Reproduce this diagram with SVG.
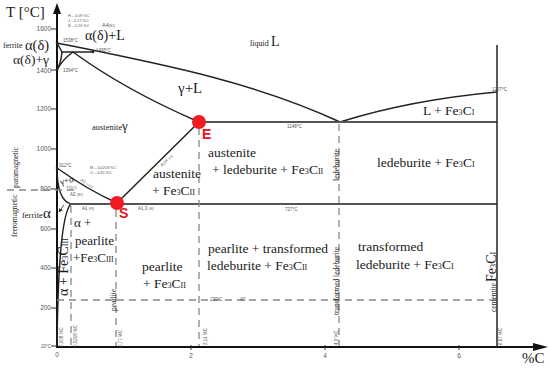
<svg xmlns="http://www.w3.org/2000/svg" width="550" height="371" viewBox="0 0 550 371">
<style>
.s{font-family:"Liberation Serif","Times New Roman",serif;fill:#1a1a1a}
.t{font-family:"Liberation Sans",Arial,sans-serif;fill:#555}
.r{font-family:"Liberation Sans",Arial,sans-serif;font-weight:bold;fill:#e3141b;font-size:14px}
.sub{font-size:60%}
.ln{fill:none;stroke:#222;stroke-width:1.5}
.gl{fill:none;stroke:#555;stroke-width:2}
.ds{fill:none;stroke:#888;stroke-width:1.3;stroke-dasharray:7,5}
.ax{stroke:#111;stroke-width:2;fill:none}
.tk{stroke:#333;stroke-width:1}
</style>
<defs>
<marker id="ah" viewBox="0 0 10 10" refX="9" refY="5" markerWidth="5" markerHeight="5" orient="auto"><path d="M0,0L10,5L0,10z" fill="#222"/></marker>
</defs>
<rect width="550" height="371" fill="#fff"/>

<g id="axes">
<line class="ax" x1="57" y1="348" x2="57" y2="12"/>
<path d="M53,14L57,3L61,14z" fill="#111"/>
<line class="ax" x1="56" y1="347" x2="534" y2="347"/>
<path d="M533,343L548,347L533,351z" fill="#111"/>
<g class="tk">
<line x1="51" y1="29" x2="57" y2="29"/><line x1="51" y1="70" x2="57" y2="70"/><line x1="51" y1="109" x2="57" y2="109"/>
<line x1="51" y1="149" x2="57" y2="149"/><line x1="51" y1="189" x2="57" y2="189"/><line x1="51" y1="229" x2="57" y2="229"/>
<line x1="51" y1="268" x2="57" y2="268"/><line x1="51" y1="308" x2="57" y2="308"/><line x1="51" y1="346" x2="57" y2="346"/>
<line x1="191" y1="345" x2="191" y2="350"/><line x1="325" y1="345" x2="325" y2="350"/><line x1="459" y1="345" x2="459" y2="350"/>
</g>
<g class="t" font-size="6.5" text-anchor="end">
<text x="51" y="31">1600</text><text x="51" y="73">1400</text><text x="51" y="111">1200</text>
<text x="51" y="151">1000</text><text x="51" y="191">800</text><text x="51" y="231">600</text>
<text x="51" y="270">400</text><text x="51" y="310">200</text>
<text x="51" y="348" font-size="4.5">20°C</text>
</g>
<g class="t" font-size="6.5" text-anchor="middle">
<text x="57" y="357">0</text><text x="191" y="358">2</text><text x="325" y="358">4</text><text x="459" y="358">6</text>
</g>
<text class="s" x="6" y="17" font-size="15">T [°C]</text>
<text class="s" x="522" y="363" font-size="15">%C</text>
</g>

<g id="connectors">
<path class="ln" d="M57,43 C150,62 250,80 340,122"/>
<path class="ln" d="M340,122 Q410,100 497,92"/>
<path class="ln" d="M57,43 L62,52"/>
<path class="ln" d="M62,52 Q61,63 57,70"/>
<path class="ln" d="M73,52 Q62,60 57,70"/>
<path class="ln" d="M62,52 L93,52"/>
<path class="ln" d="M73,52 Q125,90 199,122"/>
<path class="ln" d="M57,168 Q88,190 117,203"/>
<path class="ln" d="M57,168 Q57,200 71,204"/>
<path class="ln" d="M71,204 C62,212 58,260 57,345"/>
<path class="ln" d="M117,203 L199,122"/>
<path class="gl" d="M69,204 L497,204"/>
<path class="gl" d="M199,122 L497,122"/>
<path class="ln" d="M497,45 L497,347" stroke="#444"/>
<path class="ds" d="M7,190 L78,190"/>
<path class="ds" d="M57,300 L497,300"/>
<path class="ds" d="M71,206 L71,346"/>
<path class="ds" d="M116,210 L116,346"/>
<path class="ds" d="M199,128 L199,346"/>
<path class="ds" d="M339,124 L339,346"/>
<path d="M64,205 L59,212" stroke="#222" stroke-width="0.8" marker-end="url(#ah)"/>
<g fill="#222"><circle cx="57" cy="43" r="1.3"/><circle cx="93" cy="52" r="1.3"/><circle cx="57" cy="70" r="1.3"/><circle cx="57" cy="168" r="1.3"/></g>
</g>

<g id="point-E"><circle cx="199" cy="122" r="7" fill="#f01c22"/><text class="r" x="202" y="139">E</text></g>
<g id="point-S"><circle cx="117" cy="203" r="7" fill="#f01c22"/><text class="r" x="119" y="218">S</text></g>

<g id="small-annotations" class="t" font-size="4.5">
<text x="68" y="17" font-size="3.8">H – 0,09 %C</text>
<text x="68" y="22" font-size="3.8">J – 0,17 %C</text>
<text x="68" y="27" font-size="3.8">B – 0,53 %C</text>
<text x="102" y="27" font-size="5.5">A4<tspan class="sub">(NJ)</tspan></text>
<text x="63" y="42">1538°C</text>
<text x="96" y="52">1495°C</text>
<text x="63" y="72">1394°C</text>
<text x="287" y="128">1148°C</text>
<text x="492" y="91">1227°C</text>
<text x="59" y="167">912°C</text>
<text x="90" y="169" font-size="3.8">M – 0,0218 %C</text>
<text x="90" y="174" font-size="3.8">O – 0,45 %C</text>
<text transform="translate(80,181) rotate(30)">A3 <tspan class="sub">(GOS)</tspan></text>
<text x="66" y="189" font-size="4">770°C</text>
<text x="70" y="196">A2 <tspan class="sub">(MO)</tspan></text>
<text x="82" y="210">A1 <tspan class="sub">(PS)</tspan></text>
<text x="138" y="210">A1,3 <tspan class="sub">(SK)</tspan></text>
<text x="285" y="211">727°C</text>
<text transform="translate(162,167) rotate(-44.6)">Acm <tspan class="sub">(ES)</tspan></text>
<text x="210" y="301">230°C</text>
<text x="240" y="301">A0</text>
<text transform="translate(63,347) rotate(-90)">0,008 %C</text>
<text transform="translate(77,347) rotate(-90)">0,0218 %C</text>
<text transform="translate(122,347) rotate(-90)">0,77 %C</text>
<text transform="translate(207,345) rotate(-90)">2,11 %C</text>
<text transform="translate(338,345) rotate(-90)">4,3 %C</text>
<text transform="translate(502,345) rotate(-90)">6,67 %C</text>
</g>

<g id="magnetic" class="s" font-size="7.6" fill="#333">
<text transform="translate(18,188) rotate(-90)">paramagnetic</text>
<text transform="translate(17,237) rotate(-90)">ferromagnetic</text>
</g>

<g id="region-delta">
<text class="s" x="3" y="48" font-size="8">ferrite</text>
<text class="s" x="25" y="50" font-size="14.5">α(δ)</text>
</g>
<g id="region-delta-gamma"><text class="s" x="13" y="64" font-size="13.5">α(δ)+γ</text></g>
<g id="region-delta-L"><text class="s" x="85" y="40" font-size="14">α(δ)+L</text></g>
<g id="region-liquid"><text class="s" x="250" y="46" font-size="8">liquid</text><text class="s" x="271" y="46" font-size="14">L</text></g>
<g id="region-gamma-L"><text class="s" x="178" y="93" font-size="15">γ+L</text></g>
<g id="region-austenite"><text class="s" x="92" y="130" font-size="8.5">austenite</text><text class="s" x="122" y="130" font-size="13">γ</text></g>
<g id="region-L-Fe3C"><text class="s" x="423" y="115" font-size="13.5">L + Fe<tspan class="sub">3</tspan>C<tspan class="sub">I</tspan></text></g>
<g id="region-ledeburite-Fe3C"><text class="s" x="377" y="167" font-size="13.5">ledeburite + Fe<tspan class="sub">3</tspan>C<tspan class="sub">I</tspan></text></g>
<g id="region-austenite-ledeburite" class="s" font-size="13.5">
<text x="208" y="157">austenite</text>
<text x="212" y="174">+ ledeburite + Fe<tspan class="sub">3</tspan>C<tspan class="sub">II</tspan></text>
</g>
<g id="region-austenite-Fe3C" class="s" font-size="13.5">
<text x="153" y="178">austenite</text>
<text x="152" y="195">+ Fe<tspan class="sub">3</tspan>C<tspan class="sub">II</tspan></text>
</g>
<g id="region-gamma-alpha"><text class="s" font-size="9" transform="translate(61,185) rotate(-15)">γ+α</text></g>
<g id="region-ferrite"><text class="s" x="22" y="218" font-size="8.5">ferrite</text><text class="s" x="43" y="218" font-size="15">α</text></g>
<g id="region-alpha-Fe3CIII"><text class="s" font-size="14" transform="translate(68,296) rotate(-90)">α + Fe<tspan class="sub">3</tspan>C<tspan class="sub">III</tspan></text></g>
<g id="region-alpha-pearlite" class="s" font-size="13">
<text x="74" y="227">α +</text>
<text x="75" y="245">pearlite</text>
<text x="73" y="262">+Fe<tspan class="sub">3</tspan>C<tspan class="sub">III</tspan></text>
</g>
<g id="region-pearlite" class="s" font-size="13.5">
<text x="142" y="271">pearlite</text>
<text x="143" y="288">+ Fe<tspan class="sub">3</tspan>C<tspan class="sub">II</tspan></text>
</g>
<g id="region-pearlite-tledeburite" class="s" font-size="13.5">
<text x="208" y="253">pearlite + transformed</text>
<text x="207" y="270">ledeburite  + Fe<tspan class="sub">3</tspan>C<tspan class="sub">II</tspan></text>
</g>
<g id="region-tledeburite" class="s" font-size="13.5">
<text x="358" y="251">transformed</text>
<text x="356" y="269">ledeburite + Fe<tspan class="sub">3</tspan>C<tspan class="sub">I</tspan></text>
</g>
<g id="vertical-labels" class="s" fill="#333">
<text font-size="8" transform="translate(339,181) rotate(-90)">ledeburite</text>
<text font-size="7.5" transform="translate(339,315) rotate(-90)">transformed ledeburite</text>
<text font-size="7.3" transform="translate(116,311) rotate(-90)">pearlite</text>
<text font-size="7.5" transform="translate(496,312) rotate(-90)">cementite</text>
<text font-size="14" transform="translate(496,282) rotate(-90)">Fe<tspan class="sub">3</tspan>C<tspan class="sub">I</tspan></text>
</g>
</svg>
